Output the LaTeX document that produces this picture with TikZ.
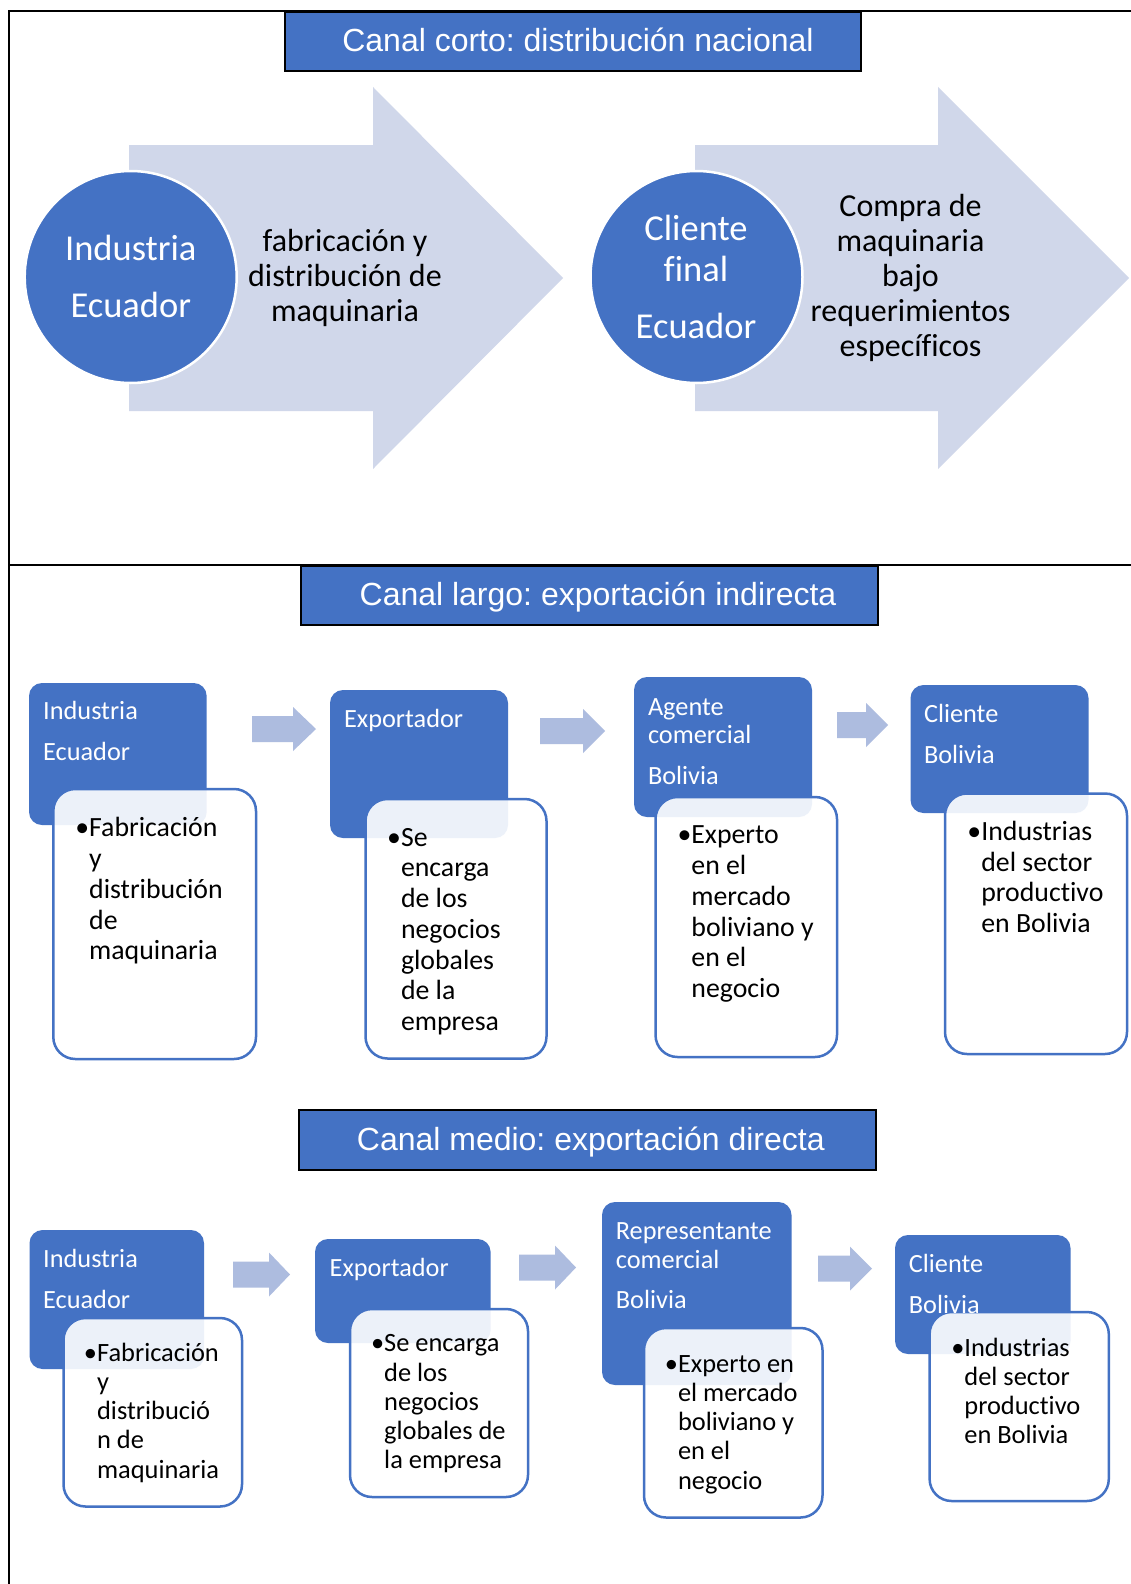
\documentclass[tikz,border=0pt]{standalone}
\usepackage{fontspec}
\setmainfont{Carlito}[RawFeature={-liga;-clig;-calt;-dlig}]
\newfontfamily\titlefont{Liberation Sans}
\frenchspacing
\definecolor{accent}{HTML}{4472C4}
\definecolor{bigarrowc}{HTML}{D0D7EA}
\definecolor{smallarrowc}{HTML}{ADBCDF}
\newcommand\fs[2]{\fontsize{#1}{#2}\selectfont}
\newcommand\tstrut{\rule{0pt}{1em}}
\newcommand\sarrow[4]{\fill[smallarrowc] (#1,#4-13) -- (#3,#4-13) -- (#3,#4-22) -- (#2,#4) -- (#3,#4+22) -- (#3,#4+13) -- (#1,#4+13) -- cycle;}
\tikzset{
  frameline/.style={draw=black, line width=2pt},
  titlebox/.style={draw=black, line width=1.5pt, fill=accent, inner sep=0, minimum height=59pt},
  titletext/.style={text=white, font=\titlefont\fs{32}{38}, inner sep=0, anchor=base},
  bluecircle/.style={circle, fill=accent, draw=white, line width=2.5pt, minimum size=212pt, inner sep=0},
  circtext/.style={text=white, font=\fs{36.5}{41}, align=center, inner sep=0, anchor=north},
  arrtext/.style={text=black, font=\fs{32}{35}, align=center, inner sep=0, anchor=north},
  bluebox/.style={fill=accent, rounded corners=13pt, inner sep=0},
  whitebox/.style={draw=accent, line width=2.5pt, fill=white, fill opacity=0.9, rounded corners=22pt, inner sep=0},
  btext/.style={text=white, font=\fs{26.3}{28.7}, align=left, inner sep=0, anchor=north west, xshift=1.5pt, yshift=-1.5pt},
  wtextA/.style={text=black, font=\fs{27.8}{30.7}, align=left, inner sep=0, anchor=north west, xshift=2pt, yshift=-1pt},
  wtextB/.style={text=black, font=\fs{26.4}{29.25}, align=left, inner sep=0, anchor=north west, xshift=2pt, yshift=-1pt},
}
\begin{document}
\begin{tikzpicture}[x=1pt,y=-1pt]
\useasboundingbox (0,0) rectangle (1131,1584);
\fill[white] (0,0) rectangle (1131,1584);
% frame
\draw[frameline] (1131,11) -- (9,11) -- (9,1584);
\draw[frameline] (9,564.5) -- (1131,564.5);

% ===== Section 1 =====
\node[titlebox, minimum width=576pt] (t1) at (573,41.5) {};
\node[titletext] (t1t) at (578,51.7) {Canal corto: distribución nacional};

\fill[bigarrowc] (129,145) -- (373,145) -- (373,87) -- (563,278) -- (373,469) -- (373,411) -- (129,411) -- cycle;
\fill[bigarrowc] (695,145) -- (938,145) -- (938,87) -- (1129,278) -- (938,469) -- (938,411) -- (695,411) -- cycle;

\node[bluecircle] (c1) at (130.7,277) {};
\node[bluecircle] (c2) at (696.5,277) {};
\node[circtext] (c1t) at (130.8,223.5) {\tstrut Industria\\[16pt]Ecuador};
\node[circtext] (c2t) at (696,203.5) {\tstrut Cliente\\final\\[16pt]Ecuador};
\node[arrtext] (a1t) at (345,219) {\tstrut fabricación y\\distribución de\\maquinaria};
\node[arrtext] (a2t) at (910.5,184.5) {\tstrut Compra de\\maquinaria\\bajo\\requerimientos\\específicos};

% ===== Section 2 =====
\node[titlebox, minimum width=577pt] (t2) at (589.5,595.5) {};
\node[titletext] (t2t) at (598,605) {Canal largo: exportación indirecta};

\node[bluebox, minimum width=177.7pt, minimum height=142pt] (b21) at (117.85,754) {};
\node[whitebox, minimum width=202.7pt, minimum height=270pt] (w21) at (154.65,924) {};
\node[btext] (b21t) at (41.5,691.4) {\tstrut Industria\\[12pt]Ecuador};
\node[wtextA] (w21t) at (87,807.9) {\tstrut\llap{•}Fabricación\\y\\distribución\\de\\maquinaria};

\node[bluebox, minimum width=178pt, minimum height=148pt] (b22) at (419,764) {};
\node[whitebox, minimum width=181pt, minimum height=259.5pt] (w22) at (456,928.75) {};
\node[btext] (b22t) at (342.4,699.7) {\tstrut Exportador};
\node[wtextA] (w22t) at (398.8,817.2) {\tstrut\llap{•}Se\\encarga\\de los\\negocios\\globales\\de la\\empresa};

\node[bluebox, minimum width=178pt, minimum height=140pt] (b23) at (723,747) {};
\node[whitebox, minimum width=181.5pt, minimum height=260pt] (w23) at (746.25,927) {};
\node[btext] (b23t) at (646.3,687) {\tstrut Agente\\comercial\\[12pt]Bolivia};
\node[wtextA] (w23t) at (689.2,814.9) {\tstrut\llap{•}Experto\\en el\\mercado\\boliviano y\\en el\\negocio};

\node[bluebox, minimum width=178pt, minimum height=128pt] (b24) at (999.5,749) {};
\node[whitebox, minimum width=182pt, minimum height=260.5pt] (w24) at (1036,923.75) {};
\node[btext] (b24t) at (922.3,694.7) {\tstrut Cliente\\[12pt]Bolivia};
\node[wtextA] (w24t) at (979.1,811.5) {\tstrut\llap{•}Industrias\\del sector\\productivo\\en Bolivia};

\sarrow{252}{316}{293}{729}
\sarrow{540}{605}{583}{731}
\sarrow{837}{888}{866}{725}

% ===== Section 3 =====
\node[titlebox, minimum width=577pt, minimum height=60pt] (t3) at (587.5,1140) {};
\node[titletext] (t3t) at (590.8,1150.7) {Canal medio: exportación directa};

\node[bluebox, minimum width=174.5pt, minimum height=139pt] (b31) at (116.75,1299.5) {};
\node[whitebox, minimum width=178.5pt, minimum height=188.5pt] (w31) at (152.75,1412.25) {};
\node[btext] (b31t) at (41.5,1239.4) {\tstrut Industria\\[12pt]Ecuador};
\node[wtextB] (w31t) at (94.9,1333.6) {\tstrut\llap{•}Fabricación\\y\\distribució\\n de\\maquinaria};

\node[bluebox, minimum width=175.6pt, minimum height=104pt] (b32) at (402.8,1291) {};
\node[whitebox, minimum width=178pt, minimum height=188pt] (w32) at (439,1403) {};
\node[btext] (b32t) at (328,1248.7) {\tstrut Exportador};
\node[wtextB] (w32t) at (382,1324.3) {\tstrut\llap{•}Se encarga\\de los\\negocios\\globales de\\la empresa};

\node[bluebox, minimum width=189.5pt, minimum height=183pt] (b33) at (696.75,1293.5) {};
\node[whitebox, minimum width=178.5pt, minimum height=189.5pt] (w33) at (733.25,1422.75) {};
\node[btext] (b33t) at (614.2,1211.4) {\tstrut Representante\\comercial\\[12pt]Bolivia};
\node[wtextB] (w33t) at (675.8,1344.6) {\tstrut\llap{•}Experto en\\el mercado\\boliviano y\\en el\\negocio};

\node[bluebox, minimum width=175.5pt, minimum height=119pt] (b34) at (982.75,1294.5) {};
\node[whitebox, minimum width=179.2pt, minimum height=189pt] (w34) at (1019.2,1406.5) {};
\node[btext] (b34t) at (907.2,1244.7) {\tstrut Cliente\\[12pt]Bolivia};
\node[wtextB] (w34t) at (962.2,1328.6) {\tstrut\llap{•}Industrias\\del sector\\productivo\\en Bolivia};

\sarrow{233}{290}{269}{1274.5}
\sarrow{519}{576}{555}{1267.5}
\sarrow{818}{872}{850}{1268.5}
\end{tikzpicture}
\end{document}
